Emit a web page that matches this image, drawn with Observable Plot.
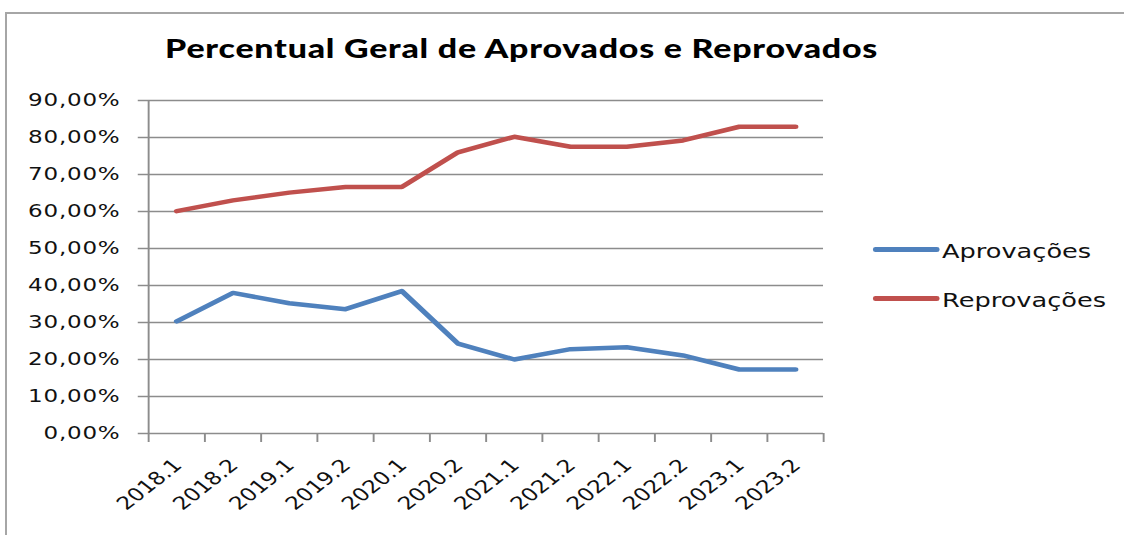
<!DOCTYPE html>
<html>
<head>
<meta charset="utf-8">
<script src="https://cdn.jsdelivr.net/npm/d3@7"></script>
<script src="https://cdn.jsdelivr.net/npm/@observablehq/plot@0.6"></script>
<style>
  html, body { margin: 0; padding: 0; background: #fff; overflow: hidden; }
  #page { position: relative; width: 1124px; height: 535px; overflow: hidden; background: #fff; }
  #border { position: absolute; left: 5px; top: 12px; width: 1300px; height: 700px;
            border-left: 2px solid #a6a6a6; border-top: 2px solid #a6a6a6; box-sizing: border-box; }
  #stage { position: absolute; left: 0; top: 0; width: 878.125px; height: 535px;
           transform: scaleX(1.28); transform-origin: 0 0; }
  #chart { position: absolute; left: 0; top: 0; }
  #title { position: absolute; left: 129px; top: 34.5px; font-family: Lato, sans-serif; font-weight: 900;
           font-size: 26.5px; letter-spacing: 0.6px; line-height: 1; white-space: nowrap; color: #000; }
  .legline { position: absolute; left: 682px; width: 52px; height: 4.5px; border-radius: 2px; }
  .legtext { position: absolute; left: 736px; font-family: "DejaVu Sans", sans-serif; font-size: 20px;
             line-height: 1; white-space: nowrap; color: #111; }
  .yaxis text { letter-spacing: 0.6px; }
</style>
</head>
<body>
<div id="page">
  <div id="border"></div>
  <div id="stage">
    <div id="chart"></div>
    <div id="title"></div>
    <div id="legend"></div>
  </div>
</div>
<script>
// ---- Data ----
const titleText = "Percentual Geral de Aprovados e Reprovados";
const categories = ["2018.1", "2018.2", "2019.1", "2019.2", "2020.1", "2020.2",
                    "2021.1", "2021.2", "2022.1", "2022.2", "2023.1", "2023.2"];
const aprovacoes  = [30.3, 38.0, 35.2, 33.6, 38.5, 24.3, 20.0, 22.8, 23.3, 21.1, 17.3, 17.3];
const reprovacoes = [60.1, 63.0, 65.1, 66.6, 66.6, 76.0, 80.2, 77.5, 77.5, 79.2, 82.9, 82.9];
const seriesNames  = ["Aprovações", "Reprovações"];
const seriesColors = ["#4F81BD", "#C0504D"];
const yTicks = [0, 10, 20, 30, 40, 50, 60, 70, 80, 90];

// ---- Build tidy table ----
const seriesValues = [aprovacoes, reprovacoes];
const data = [];
seriesNames.forEach((name, s) => {
  categories.forEach((cat, i) => data.push({ i, cat, series: name, value: seriesValues[s][i] }));
});

const fmt = d => d.toFixed(2).replace(".", ",") + "%";
const gridColor = "#8c8c8c";

const chart = Plot.plot({
  width: 878.125,
  height: 535,
  marginLeft: 115.625,
  marginRight: 235.15,
  marginTop: 100,
  marginBottom: 102,
  style: { fontFamily: "DejaVu Sans", fontSize: "18px", color: "#111", background: "transparent", overflow: "visible" },
  x: { type: "linear", domain: [-0.5, categories.length - 0.5], label: null },
  y: { domain: [0, 90], label: null },
  color: { domain: seriesNames, range: seriesColors },
  marks: [
    Plot.gridY(yTicks.slice(1), { stroke: gridColor, strokeOpacity: 1, strokeWidth: 1.5 }),
    Plot.ruleY([0], { stroke: gridColor, strokeWidth: 1.5 }),
    Plot.ruleX([-0.5], { stroke: gridColor, strokeWidth: 1.5 }),
    Plot.axisY(yTicks, { tickSize: 8, tickPadding: 14, tickFormat: fmt, stroke: gridColor, strokeWidth: 1.5, className: "yaxis" }),
    Plot.axisX(d3.range(categories.length + 1).map(i => i - 0.5),
               { tickSize: 9, fill: "none", stroke: gridColor, strokeWidth: 1.5 }),
    Plot.text(categories, { x: (d, i) => i, text: d => d, frameAnchor: "bottom", rotate: -45,
                            textAnchor: "end", lineAnchor: "bottom", dx: 5, dy: 33, fill: "#111" }),
    Plot.line(data, { x: "i", y: "value", stroke: "series", z: "series", strokeWidth: 4.5,
                      strokeLinejoin: "round", strokeLinecap: "round" })
  ]
});
document.getElementById("chart").appendChild(chart);

// ---- Title ----
document.getElementById("title").textContent = titleText;

// ---- Legend ----
const legend = document.getElementById("legend");
const legLineY = [249.3, 298.3];
const legTextTop = [241.4, 289.8];
seriesNames.forEach((name, s) => {
  const line = document.createElement("div");
  line.className = "legline";
  line.style.top = (legLineY[s] - 2.25) + "px";
  line.style.background = seriesColors[s];
  legend.appendChild(line);
  const t = document.createElement("div");
  t.className = "legtext";
  t.style.top = legTextTop[s] + "px";
  t.textContent = name;
  legend.appendChild(t);
});
</script>
</body>
</html>
